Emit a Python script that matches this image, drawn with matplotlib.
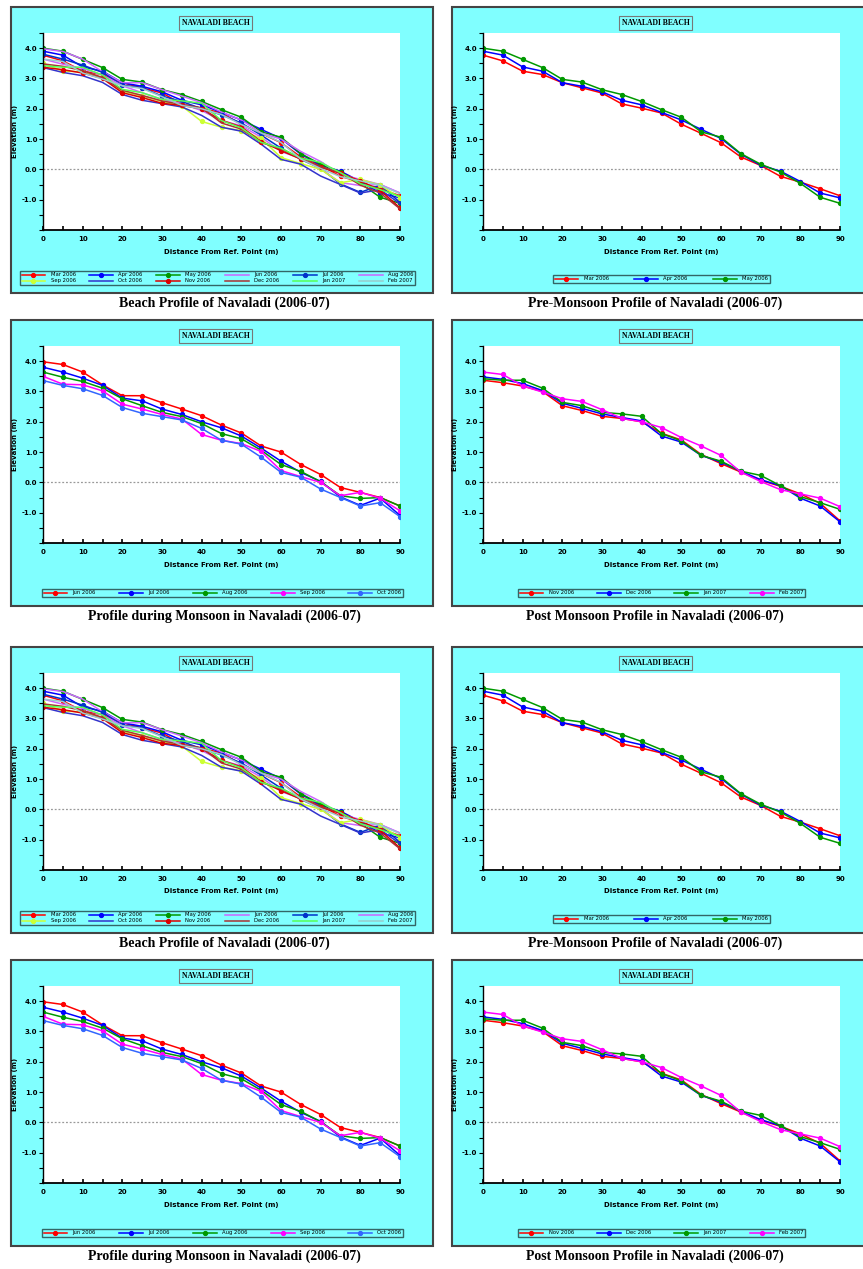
import matplotlib
matplotlib.use('Agg')
import matplotlib.pyplot as plt
from matplotlib.patches import Rectangle
from matplotlib.lines import Line2D
from matplotlib.ticker import MultipleLocator, FixedLocator, FormatStrFormatter

W, H = 863, 1269
CYAN = '#80ffff'

# distance from reference point (m)
dist = [0, 5, 10, 15, 20, 25, 30, 35, 40, 45, 50, 55, 60, 65, 70, 75, 80, 85, 90]

# elevation (m)
mar_2006 = [3.77, 3.58, 3.24, 3.13, 2.86, 2.69, 2.52, 2.16, 2.02, 1.86, 1.49, 1.19, 0.88, 0.41, 0.13, -0.23, -0.42, -0.64, -0.87]
apr_2006 = [3.90, 3.77, 3.38, 3.24, 2.86, 2.74, 2.56, 2.28, 2.13, 1.88, 1.63, 1.32, 1.02, 0.50, 0.14, -0.06, -0.40, -0.78, -0.94]
may_2006 = [4.00, 3.90, 3.63, 3.36, 2.97, 2.88, 2.63, 2.47, 2.24, 1.97, 1.72, 1.24, 1.06, 0.52, 0.17, -0.09, -0.46, -0.92, -1.12]

jun_2006 = [3.98, 3.89, 3.64, 3.22, 2.86, 2.86, 2.63, 2.42, 2.20, 1.89, 1.63, 1.20, 1.00, 0.59, 0.26, -0.17, -0.33, -0.50, -0.78]
jul_2006 = [3.80, 3.64, 3.44, 3.20, 2.78, 2.69, 2.42, 2.24, 2.00, 1.80, 1.53, 1.13, 0.70, 0.33, 0.03, -0.48, -0.76, -0.52, -1.09]
aug_2006 = [3.64, 3.47, 3.33, 3.11, 2.76, 2.53, 2.31, 2.17, 1.94, 1.61, 1.44, 1.06, 0.59, 0.36, 0.02, -0.44, -0.53, -0.50, -0.78]
sep_2006 = [3.50, 3.24, 3.22, 3.02, 2.58, 2.42, 2.24, 2.09, 1.58, 1.39, 1.28, 1.02, 0.39, 0.19, 0.00, -0.44, -0.33, -0.52, -0.94]
oct_2006 = [3.36, 3.20, 3.09, 2.87, 2.47, 2.28, 2.17, 2.06, 1.78, 1.39, 1.26, 0.83, 0.33, 0.17, -0.22, -0.50, -0.78, -0.67, -1.13]

nov_2006 = [3.37, 3.29, 3.18, 3.00, 2.53, 2.37, 2.18, 2.11, 2.00, 1.62, 1.40, 0.92, 0.62, 0.34, 0.07, -0.13, -0.38, -0.69, -1.27]
dec_2006 = [3.48, 3.40, 3.26, 3.03, 2.61, 2.44, 2.26, 2.14, 2.03, 1.53, 1.33, 0.89, 0.67, 0.37, 0.09, -0.11, -0.52, -0.78, -1.30]
jan_2007 = [3.42, 3.37, 3.37, 3.11, 2.64, 2.53, 2.31, 2.26, 2.18, 1.61, 1.37, 0.89, 0.70, 0.37, 0.23, -0.11, -0.47, -0.67, -0.89]
feb_2007 = [3.64, 3.56, 3.18, 2.98, 2.76, 2.67, 2.40, 2.11, 2.00, 1.81, 1.48, 1.20, 0.89, 0.34, 0.03, -0.24, -0.38, -0.52, -0.80]

# (label, values, colour, marker) for each chart
all_months = [
    ('Mar 2006', mar_2006, '#ff0000', 'o'), ('Apr 2006', apr_2006, '#0000ff', 'o'),
    ('May 2006', may_2006, '#009900', 'o'), ('Jun 2006', jun_2006, '#cc66ff', None),
    ('Jul 2006', jul_2006, '#0033cc', 'o'), ('Aug 2006', aug_2006, '#cc66ff', None),
    ('Sep 2006', sep_2006, '#ccff33', 'o'), ('Oct 2006', oct_2006, '#3333cc', None),
    ('Nov 2006', nov_2006, '#dd0000', 'o'), ('Dec 2006', dec_2006, '#aa3333', None),
    ('Jan 2007', jan_2007, '#55ff55', None), ('Feb 2007', feb_2007, '#99cccc', None),
]
pre_monsoon = [('Mar 2006', mar_2006, '#ff0000', 'o'), ('Apr 2006', apr_2006, '#0000ff', 'o'),
               ('May 2006', may_2006, '#009900', 'o')]
monsoon = [('Jun 2006', jun_2006, '#ff0000', 'o'), ('Jul 2006', jul_2006, '#0000ff', 'o'),
           ('Aug 2006', aug_2006, '#009900', 'o'), ('Sep 2006', sep_2006, '#ff00ff', 'o'),
           ('Oct 2006', oct_2006, '#3366ff', 'o')]
post_monsoon = [('Nov 2006', nov_2006, '#ff0000', 'o'), ('Dec 2006', dec_2006, '#0000ff', 'o'),
                ('Jan 2007', jan_2007, '#009900', 'o'), ('Feb 2007', feb_2007, '#ff00ff', 'o')]

fig = plt.figure(figsize=(W / 100, H / 100), dpi=100)


def fx(px):
    return px / W


def fy(py):
    return 1 - py / H


def panel(top, left, right, pl, pr, series, leg, ncol, caption):
    # cyan frame
    fig.add_artist(Rectangle((fx(left), fy(top + 286)), (right - left) / W, 286 / H,
                             transform=fig.transFigure, facecolor=CYAN,
                             edgecolor='#444444', linewidth=1.5, zorder=0))
    ax = fig.add_axes([fx(pl), fy(top + 223), (pr - pl) / W, 197 / H])
    ax.set_facecolor('white')
    lines = []
    for lab, vals, col, mk in series:
        ln, = ax.plot(dist, vals, color=col, lw=1.1, marker=mk, ms=2.8, label=lab)
        lines.append(ln)
    ax.axhline(0, color='#999999', lw=0.9, ls=(0, (1.5, 1.5)), zorder=0)
    ax.set_xlim(0, 90)
    ax.set_ylim(-2, 4.5)
    ax.xaxis.set_major_locator(MultipleLocator(10))
    ax.xaxis.set_minor_locator(MultipleLocator(5))
    ax.yaxis.set_major_locator(FixedLocator([-1, 0, 1, 2, 3, 4]))
    ax.yaxis.set_minor_locator(MultipleLocator(0.5))
    ax.yaxis.set_major_formatter(FormatStrFormatter('%.1f'))
    ax.tick_params(axis='x', which='both', direction='in', length=3, width=1.2, labelsize=5, pad=4)
    ax.tick_params(axis='y', which='both', direction='out', length=3, width=0.8, labelsize=5, pad=1)
    for t in ax.get_xticklabels() + ax.get_yticklabels():
        t.set_fontweight('bold')
    ax.spines['top'].set_visible(False)
    ax.spines['right'].set_visible(False)
    ax.spines['bottom'].set_linewidth(1.3)
    ax.spines['left'].set_linewidth(1.0)
    ax.set_xlabel('Distance From Ref. Point (m)', fontsize=5, fontweight='bold', labelpad=5)
    ax.set_ylabel('Elevation (m)', fontsize=5, fontweight='bold', labelpad=3)

    # chart title with box and underline
    cx = (pl + pr) / 2 - 6
    fig.text(fx(cx), fy(top + 16), 'NAVALADI BEACH', ha='center', va='center',
             family='Liberation Serif', fontweight='bold', fontsize=5.5,
             bbox=dict(boxstyle='square,pad=0.35', fc=CYAN, ec='#777777', lw=0.8))
    fig.add_artist(Line2D([fx(cx - 33), fx(cx + 33)], [fy(top + 20), fy(top + 20)],
                          transform=fig.transFigure, color='#333333', lw=0.6))

    # legend filled row by row (matplotlib fills columns first)
    nrow = -(-len(lines) // ncol)
    order = [r * ncol + c for c in range(ncol) for r in range(nrow) if r * ncol + c < len(lines)]
    lx0, lx1, ly0, ly1 = leg
    ax.legend([lines[i] for i in order], [series[i][0] for i in order],
              loc='lower left', mode='expand', ncol=ncol,
              bbox_to_anchor=(fx(lx0), fy(top + ly1), (lx1 - lx0) / W, (ly1 - ly0) / H),
              bbox_transform=fig.transFigure, fontsize=3.8, frameon=True, fancybox=False,
              facecolor=CYAN, edgecolor='#336666', framealpha=1, borderpad=0.3,
              handlelength=4.5, handletextpad=1.0, labelspacing=0.2, borderaxespad=0)

    fig.text(fx((left + right) / 2 + (2 if left < 200 else -4)), fy(top + 296), caption,
             ha='center', va='center', family='Liberation Serif', fontweight='bold', fontsize=10)


for r0 in (0, 640):
    panel(7 + r0, 11, 433, 43, 400, all_months, (20, 415, 261, 278), 6,
          'Beach Profile of Navaladi (2006-07)')
    panel(7 + r0, 452, 866, 483, 840, pre_monsoon, (553, 770, 265, 276), 3,
          'Pre-Monsoon Profile of Navaladi (2006-07)')
    panel(320 + r0, 11, 433, 43, 400, monsoon, (42, 403, 265, 277), 5,
          'Profile during Monsoon in Navaladi (2006-07)')
    panel(320 + r0, 452, 866, 483, 840, post_monsoon, (518, 805, 265, 277), 4,
          'Post Monsoon Profile in Navaladi (2006-07)')

fig.savefig('out.png', dpi=100)
